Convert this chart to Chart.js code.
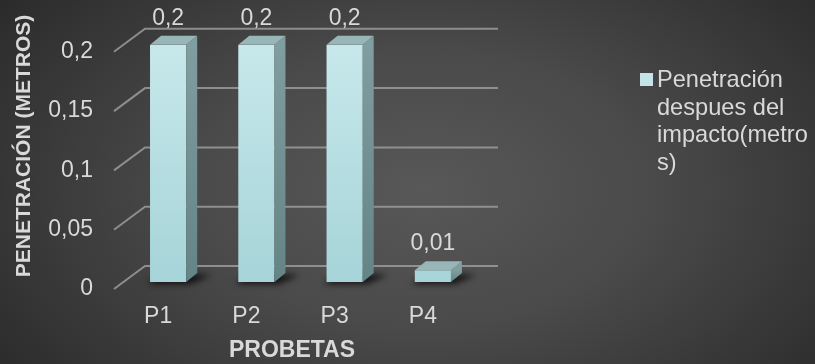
<!DOCTYPE html>
<html>
<head>
<meta charset="utf-8">
<script src="https://cdn.jsdelivr.net/npm/chart.js@4"></script>
<style>
  html, body { margin: 0; padding: 0; }
  body {
    width: 815px; height: 364px; overflow: hidden;
    background: radial-gradient(ellipse 70% 95% at 52% 52%, #585858 0%, #4a4a4a 40%, #353535 75%, #262626 100%);
  }
  #wrap { position: relative; width: 815px; height: 364px; }
</style>
</head>
<body>
<div id="wrap"><canvas id="chart"></canvas></div>
<script>
// ─── DATA ─────────────────────────────────────────────────────────────
const categories  = ['P1', 'P2', 'P3', 'P4'];
const penetration = [0.2, 0.2, 0.2, 0.01];
const yTicks      = [0, 0.05, 0.1, 0.15, 0.2];
const seriesName  = 'Penetración despues del impacto(metros)';
const legendLines = ['Penetración', 'despues del', 'impacto(metro', 's)'];
const yTitle      = 'PENETRACIÓN (METROS)';
const xTitle      = 'PROBETAS';

const FONT = '"Liberation Sans", Arial, sans-serif';
const TXT  = '#d9d9d9';
const fmt  = v => String(Number(v.toFixed(2))).replace('.', ',');

// depth of the fake 3d walls / bars
const WALL = { dx: 31, dy: -23 };
const BOX  = { dx: 11, dy: -9 };

const threeD = {
  id: 'threeD',
  beforeDatasetsDraw(chart) {
    const { ctx, chartArea: { left, right }, scales: { y } } = chart;
    ctx.save();
    ctx.strokeStyle = 'rgba(155,155,155,0.85)';
    ctx.lineWidth = 2;
    yTicks.forEach(v => {
      const yf = y.getPixelForValue(v) + 7;
      ctx.beginPath();
      ctx.moveTo(left - 10, yf);
      ctx.lineTo(left - 10 + WALL.dx, yf + WALL.dy);
      ctx.lineTo(right + 21, yf + WALL.dy);
      ctx.stroke();
    });
    // floor shadows
    const meta = chart.getDatasetMeta(0);
    meta.data.forEach(bar => {
      const x0 = bar.x - bar.width / 2, x1 = bar.x + bar.width / 2, b = bar.base;
      ctx.save();
      ctx.fillStyle = 'rgba(0,0,0,0.75)';
      ctx.filter = 'blur(3px)';
      ctx.beginPath();
      ctx.moveTo(x0 - 3, b + 2);
      ctx.lineTo(x1 + 4, b + 2);
      ctx.lineTo(x1 + BOX.dx + 14, b + BOX.dy + 2);
      ctx.lineTo(x0 + BOX.dx, b + BOX.dy);
      ctx.closePath();
      ctx.fill();
      ctx.restore();
    });
    ctx.restore();
  },
  afterDatasetsDraw(chart) {
    const { ctx } = chart;
    const meta = chart.getDatasetMeta(0);
    ctx.save();
    meta.data.forEach((bar, i) => {
      const x0 = bar.x - bar.width / 2, x1 = bar.x + bar.width / 2;
      const t = bar.y, b = bar.base;
      // side face
      const sg = ctx.createLinearGradient(0, t, 0, b);
      sg.addColorStop(0, '#809d9f');
      sg.addColorStop(1, '#648486');
      ctx.fillStyle = sg;
      ctx.beginPath();
      ctx.moveTo(x1, t);
      ctx.lineTo(x1 + BOX.dx, t + BOX.dy);
      ctx.lineTo(x1 + BOX.dx, b + BOX.dy);
      ctx.lineTo(x1, b);
      ctx.closePath();
      ctx.fill();
      // top face
      ctx.fillStyle = '#98b6b8';
      ctx.beginPath();
      ctx.moveTo(x0, t);
      ctx.lineTo(x0 + BOX.dx, t + BOX.dy);
      ctx.lineTo(x1 + BOX.dx, t + BOX.dy);
      ctx.lineTo(x1, t);
      ctx.closePath();
      ctx.fill();
      // value label
      ctx.font = '23px ' + FONT;
      ctx.fillStyle = TXT;
      ctx.textAlign = 'center';
      ctx.textBaseline = 'middle';
      ctx.fillText(fmt(penetration[i]), bar.x, t - 26);
    });
    ctx.restore();
  },
  afterDraw(chart) {
    const { ctx } = chart;
    ctx.save();
    // axis titles
    ctx.fillStyle = TXT;
    ctx.textAlign = 'center';
    ctx.textBaseline = 'middle';
    ctx.font = 'bold 23px ' + FONT;
    ctx.fillText(xTitle, 292, 351);
    ctx.font = 'bold 21px ' + FONT;
    ctx.translate(24, 146);
    ctx.rotate(-Math.PI / 2);
    ctx.fillText(yTitle, 0, 0);
    ctx.restore();
    // legend
    ctx.save();
    ctx.fillStyle = '#c3e5e8';
    ctx.fillRect(640, 73, 13, 13);
    ctx.fillStyle = TXT;
    ctx.font = '23.6px ' + FONT;
    ctx.textAlign = 'left';
    ctx.textBaseline = 'alphabetic';
    legendLines.forEach((line, i) => ctx.fillText(line, 657, 87 + i * 27.7));
    ctx.restore();
  },
};

new Chart(document.getElementById('chart'), {
  type: 'bar',
  data: {
    labels: categories,
    datasets: [{
      label: seriesName,
      data: penetration,
      backgroundColor: ctx => {
        const { chart } = ctx;
        const area = chart.chartArea;
        if (!area) return '#bfe3e6';
        const g = chart.ctx.createLinearGradient(0, area.top, 0, area.bottom);
        g.addColorStop(0, '#c7e8eb');
        g.addColorStop(1, '#a6d4d8');
        return g;
      },
      borderWidth: 0,
      barPercentage: 0.41,
      categoryPercentage: 1,
    }],
  },
  options: {
    responsive: true,
    maintainAspectRatio: false,
    animation: false,
    layout: { padding: { top: 43, right: 338, bottom: 0, left: 0 } },
    plugins: { legend: { display: false }, tooltip: { enabled: false } },
    scales: {
      x: {
        grid: { display: false, drawTicks: false },
        border: { display: false },
        ticks: { color: TXT, font: { family: FONT, size: 23 }, padding: 21, labelOffset: -10, maxRotation: 0 },
        afterFit: s => { s.height = 82; },
      },
      y: {
        min: 0, max: 0.2,
        afterBuildTicks: s => { s.ticks = yTicks.map(v => ({ value: v })); },
        grid: { display: false, drawTicks: false },
        border: { display: false },
        ticks: { color: TXT, font: { family: FONT, size: 23 }, padding: 31, labelOffset: 7, callback: v => fmt(v) },
        afterFit: s => { s.width = 124; },
      },
    },
  },
  plugins: [threeD],
});
</script>
</body>
</html>
